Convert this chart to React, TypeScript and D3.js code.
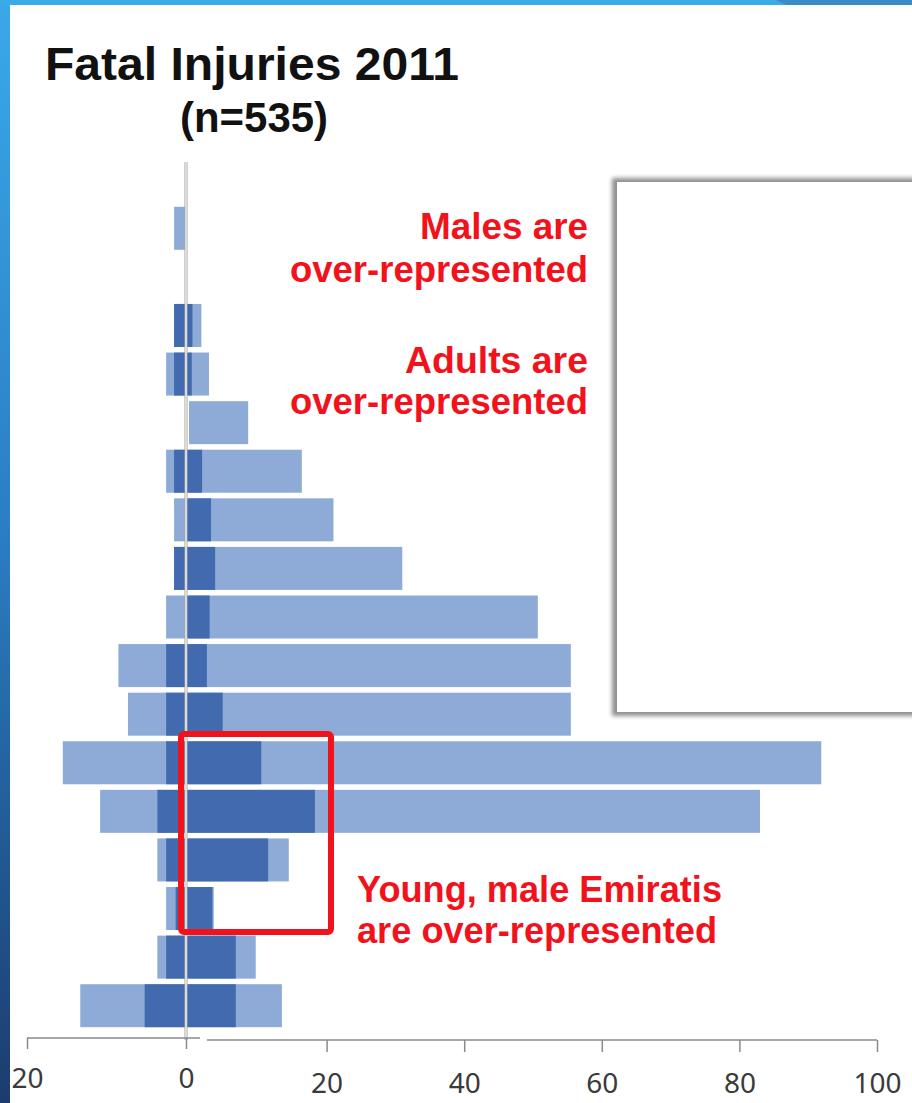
import * as d3 from 'd3'
import { useEffect, useRef } from 'react'

// age bands, oldest at the top like a population pyramid
const ageGroups = [
  '80+', '75-79', '70-74', '65-69', '60-64', '55-59', '50-54', '45-49', '40-44',
  '35-39', '30-34', '25-29', '20-24', '15-19', '10-14', '5-9', '0-4',
]
const femaleAll = [1.5, 0, 1.5, 2.5, 0, 2.5, 1.5, 1.5, 2.5, 8.5, 7.3, 15.5, 10.8, 3.6, 2.5, 3.6, 13.3]
const femaleEmirati = [0, 0, 1.5, 1.5, 0, 1.5, 0, 1.5, 0, 2.5, 2.5, 2.5, 3.6, 2.5, 1.3, 2.5, 5.2]
const maleAll = [0, 0, 1.8, 2.9, 8.6, 16.4, 21, 31, 50.7, 55.5, 55.5, 91.9, 83, 14.5, 3.6, 9.7, 13.5]
const maleEmirati = [0, 0, 0.5, 0.4, 0, 1.9, 3.2, 3.8, 3.0, 2.6, 4.9, 10.5, 18.3, 11.5, 3.4, 6.8, 6.8]
const femaleTicks = [20, 0]
const maleTicks = [20, 40, 60, 80, 100]

const W = 912
const H = 1103
const light = '#8eaad6'
const dark = '#416bae'
const red = '#f2121c'
const sans = '"Liberation Sans", Arial, sans-serif'

export default function App() {
  const ref = useRef<SVGSVGElement>(null)

  useEffect(() => {
    const svg = d3.select(ref.current)
    svg.selectAll('*').remove()

    const defs = svg.append('defs')
    const grad = defs
      .append('linearGradient')
      .attr('id', 'side')
      .attr('x1', 0).attr('y1', 0).attr('x2', 0).attr('y2', 1)
    grad.append('stop').attr('offset', '0%').attr('stop-color', '#3aa9e8')
    grad.append('stop').attr('offset', '50%').attr('stop-color', '#2a7cc0')
    grad.append('stop').attr('offset', '100%').attr('stop-color', '#1c3c6e')
    const blur = defs.append('filter').attr('id', 'shadow').attr('x', '-10%').attr('y', '-10%').attr('width', '120%').attr('height', '120%')
    blur.append('feGaussianBlur').attr('stdDeviation', 2)

    svg.append('rect').attr('width', W).attr('height', H).attr('fill', '#fff')

    // empty white panel on the right
    svg.append('rect')
      .attr('x', 612).attr('y', 178).attr('width', 320).attr('height', 538)
      .attr('fill', '#8f8f8f').attr('filter', 'url(#shadow)')
    svg.append('rect')
      .attr('x', 617).attr('y', 182).attr('width', 320).attr('height', 530)
      .attr('fill', '#fff')

    // scales
    const y = d3.scaleBand<string>()
      .domain(ageGroups)
      .range([204, 1030])
      .paddingInner(0.115)
      .paddingOuter(0.0575)
    const xF = d3.scaleLinear().domain([20, 0]).range([27, 186])
    const xM = d3.scaleLinear().domain([0, 100]).range([189, 877])

    const rows = ageGroups.map((g, i) => ({
      g,
      fa: femaleAll[i],
      fe: femaleEmirati[i],
      ma: maleAll[i],
      me: maleEmirati[i],
    }))

    const bars = svg.append('g')
    bars.selectAll('rect.fa').data(rows).enter().append('rect')
      .attr('x', (d) => xF(d.fa)).attr('y', (d) => y(d.g)!)
      .attr('width', (d) => xF(0) - xF(d.fa)).attr('height', y.bandwidth())
      .attr('fill', light)
    bars.selectAll('rect.ma').data(rows).enter().append('rect')
      .attr('x', xM(0)).attr('y', (d) => y(d.g)!)
      .attr('width', (d) => xM(d.ma) - xM(0)).attr('height', y.bandwidth())
      .attr('fill', light)
    bars.selectAll('rect.fe').data(rows).enter().append('rect')
      .attr('x', (d) => xF(d.fe)).attr('y', (d) => y(d.g)!)
      .attr('width', (d) => xF(0) - xF(d.fe)).attr('height', y.bandwidth())
      .attr('fill', dark)
    bars.selectAll('rect.me').data(rows).enter().append('rect')
      .attr('x', xM(0) - 3).attr('y', (d) => y(d.g)!)
      .attr('width', (d) => (d.me > 0 ? xM(d.me) - xM(0) + 3 : 0)).attr('height', y.bandwidth())
      .attr('fill', dark)

    // centre line
    svg.append('line').attr('x1', 186).attr('x2', 186).attr('y1', 162).attr('y2', 1040)
      .attr('stroke', '#a3a3a3').attr('stroke-width', 3)
    svg.append('line').attr('x1', 186).attr('x2', 186).attr('y1', 162).attr('y2', 1040)
      .attr('stroke', '#fff').attr('stroke-width', 1.2)

    // axes (two separate charts put side by side)
    const axF = svg.append('g').attr('transform', 'translate(0,1038)')
      .call(d3.axisBottom(xF).tickValues(femaleTicks).tickSizeOuter(0).tickSize(11).tickPadding(19))
    axF.select('.domain').attr('d', 'M27,0H200')
    const axM = svg.append('g').attr('transform', 'translate(0,1040)')
      .call(d3.axisBottom(xM).tickValues(maleTicks).tickSizeOuter(0).tickSize(12).tickPadding(21))
    axM.select('.domain').attr('d', 'M207,0H877')
    svg.selectAll('.domain').attr('stroke', '#8a8a8a').attr('stroke-width', 1.5)
    svg.selectAll('.tick line').attr('stroke', '#8a8a8a').attr('stroke-width', 1.5)
    svg.selectAll('.tick text')
      .attr('fill', '#3a3a3a')
      .style('font-family', '"Noto Sans", "Open Sans", sans-serif')
      .style('font-size', '28px')

    // titles
    svg.append('text').attr('x', 45).attr('y', 80)
      .attr('textLength', 414).attr('lengthAdjust', 'spacingAndGlyphs')
      .style('font-family', sans).style('font-weight', 'bold').style('font-size', '47px')
      .attr('fill', '#111').text('Fatal Injuries 2011')
    svg.append('text').attr('x', 180).attr('y', 132)
      .attr('textLength', 148).attr('lengthAdjust', 'spacingAndGlyphs')
      .style('font-family', sans).style('font-weight', 'bold').style('font-size', '42px')
      .attr('fill', '#111').text('(n=535)')

    // annotations
    const notes = [
      { t: 'Males are', x: 588, y: 239, a: 'end', w: 168 },
      { t: 'over-represented', x: 588, y: 282, a: 'end', w: 298 },
      { t: 'Adults are', x: 588, y: 373, a: 'end', w: 183 },
      { t: 'over-represented', x: 588, y: 414, a: 'end', w: 298 },
      { t: 'Young, male Emiratis', x: 357, y: 902, a: 'start', w: 365 },
      { t: 'are over-represented', x: 357, y: 943, a: 'start', w: 360 },
    ]
    svg.append('g').selectAll('text').data(notes).enter().append('text')
      .attr('x', (d) => d.x).attr('y', (d) => d.y)
      .attr('text-anchor', (d) => d.a)
      .attr('textLength', (d) => d.w).attr('lengthAdjust', 'spacingAndGlyphs')
      .style('font-family', sans).style('font-weight', 'bold').style('font-size', '36.5px')
      .attr('fill', red).text((d) => d.t)

    svg.append('rect').attr('x', 181).attr('y', 734).attr('width', 150).attr('height', 198)
      .attr('rx', 3).attr('fill', 'none').attr('stroke', red).attr('stroke-width', 6)

    // slide frame
    svg.append('rect').attr('x', 0).attr('y', 0).attr('width', 10).attr('height', H).attr('fill', 'url(#side)')
    svg.append('rect').attr('x', 0).attr('y', 0).attr('width', W).attr('height', 5).attr('fill', '#3aabe9')
    svg.append('path').attr('d', 'M776,0H912V5H786Z').attr('fill', '#3a8cc6')
  }, [])

  return (
    <svg
      ref={ref}
      width={W}
      height={H}
      style={{ position: 'absolute', left: 0, top: 0, display: 'block' }}
    />
  )
}
